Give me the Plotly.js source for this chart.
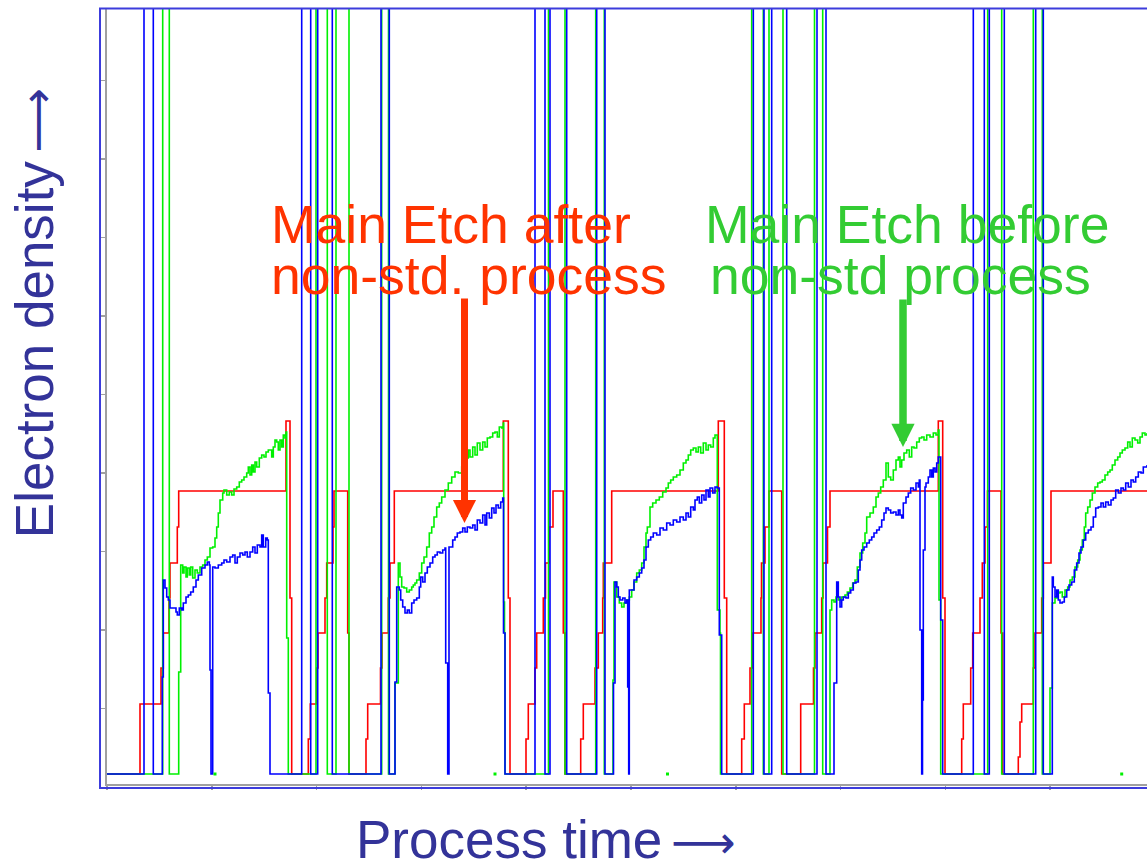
<!DOCTYPE html>
<html>
<head>
<meta charset="utf-8">
<script src="https://cdn.plot.ly/plotly-3.0.1.min.js"></script>
<style>html,body{margin:0;padding:0;background:#fff;}#chart{width:1147px;height:861px;}</style>
</head>
<body>
<div id="chart"></div>
<script>
// Sampled signals (time in samples, density in counts; 900 = off-scale / saturated)
const redX = [0,33,54,56.3,62,63,70.3,71.7,179,183,184.7,201.3,203.3,209.7,211,218,219.7,226,227,240.7,242,259,260.7,273.5,275,281.3,283,287.3,396.3,401.3,403,419,421.3,428,429.7,436.3,438.5,442,446,456.3,458,473.7,476.3,488,491.3,495.7,496.3,504.7,611.3,617.3,619.7,634.7,637.3,643,645.5,654,654.5,658,662,674.7,693.7,706.5,708,714.7,716,720.5,723,831.3,835.7,838,854.7,856.3,863.7,865.7,873,875.3,878,880.5,894,895.7,911.3,913,914.7,926.3,928,934.7,936.3,944,1040];
const redY = [10,80,116,151,186,221,257,293,363,186,10,45,80,116,151,186,221,257,293,151,10,45,80,116,151,186,221,293,363,186,10,45,80,116,151,186,221,257,293,151,10,45,80,116,151,186,221,293,363,186,10,45,80,116,151,186,221,257,293,10,80,116,151,186,221,257,293,363,186,10,45,80,116,151,186,221,257,293,151,10,27,62,80,116,151,186,221,293,293];

const greenX = [0,55.7,62.3,71.7,73.7,75.7,77,79,80.3,82.3,83.7,85.7,88,90.3,93,95.7,98,100.3,103,105.7,108,109.7,111.3,113,115.7,117,119.7,122.3,124.7,127,129.7,132.3,134.7,137,139.7,141.3,143,144.7,146.3,148,149.7,152.3,154.7,157,159,161.3,164.7,166.3,168,169.7,171.3,173,174.7,176.3,178,179,179.7,181.3,
209,220.3,229,242,274.7,281.5,288,291.3,293,294.7,297,299.7,302.3,304.7,306.3,308,309.7,312.3,314.7,317,319.7,322.3,324.7,327,329.7,332.3,334.7,338,341.3,344.7,348,351.3,354.7,358,361.3,363,365.7,368,370.3,373,375.7,378,380.3,383,385.7,388,390.3,392.3,394.7,396.3,396.7,397.5,398,
441.5,458,488.7,497.3,506,507,509.7,512.3,514.7,517,519.7,522.3,524.7,527,529.7,532.3,534.7,537,539,540.3,543,545.7,549,552.3,555.7,559,561.3,563.7,566.3,569.7,573,576.3,579,581.3,583.7,586.3,589,591.3,593.7,596.3,599,601.3,603.7,606.3,608,610.3,613,613.5,
644.7,656.3,662,676,707.5,715.7,723,724.7,727,729,731.3,734.7,738,740.3,743,745.7,748,750.3,753,755.7,758,759.7,763,766.3,769,771.3,773.7,776.3,779,781.3,783.7,786.3,789,791.3,793,794.7,797,799.7,802.3,804.7,807,809.7,812.3,814.7,817,819.7,823,826.3,829,831.3,832,833.7,
880.7,894.7,926.3,935.3,943,945.3,948,950.7,953,955.3,958,960.7,963,965.3,968,970.7,973,975.3,977.3,978.7,980.7,983,985.3,988,990.7,993,995.3,998,1000.7,1003,1005.3,1008,1010.7,1013,1015.3,1018,1020.7,1023,1025.3,1028,1030.7,1033,1035.3,1038,1040];
const greenY = [10,900,10,112,219,211,217,207,216,209,217,206,214,211,217,219,224,227,236,237,246,257,271,284,291,294,289,292,289,295,297,302,304,307,311,317,309,319,312,322,317,326,329,327,332,334,327,337,344,342,334,344,337,349,346,352,146,10,
900,10,900,10,900,10,101,221,207,197,196,192,194,197,199,201,204,211,221,227,237,251,257,267,277,281,287,294,301,307,312,311,317,326,334,327,337,329,341,334,342,337,346,347,351,352,347,357,356,361,182,151,10,
900,10,900,10,104,202,187,181,177,181,184,187,194,202,211,214,221,237,251,257,277,281,284,287,292,296,301,304,307,309,314,321,324,329,334,336,332,337,331,341,334,339,337,346,349,174,151,10,
900,10,900,10,900,10,174,184,182,187,184,187,189,192,196,201,204,217,231,241,251,267,271,277,287,291,297,304,321,307,304,314,324,327,317,324,331,334,327,337,336,342,346,347,344,349,347,351,349,354,184,10,
900,10,900,10,96,181,186,191,192,187,194,197,204,207,217,224,234,244,257,271,277,284,291,297,301,302,304,309,312,314,319,324,327,331,334,336,342,337,346,344,341,347,351,349,351];

const blueX = [0,37,46.3,55.3,56.3,58,59.7,61.3,63,69,70.3,72.3,74.7,76.3,79,81.3,83.7,86.3,89,91.3,94.7,98,100.3,102.3,103,104,105.7,108,111.3,114.7,117,119.7,123,125.7,128,130.3,133,135.7,138,140.3,143,145.7,148,150.3,153,154.7,156.3,158.7,160.3,161.3,163,
194.7,203.7,210.7,225.3,274,282.3,288,289.7,292.3,293.7,295.7,298,300.3,302.3,304.7,307,309.7,312.3,313.7,315.7,318,320.3,323,325.7,328,330.3,333,335.7,338,338.7,340.7,342,345.7,348,350.3,353,355.7,358,360.3,363,365.7,368,370.3,373,375.7,378,379.7,382.3,384.7,387,389,391.3,393.7,395.7,396.5,398,
428,438,443,459.7,489.7,498,506.5,508,509.7,511.3,513,515.7,518,519.7,520.7,521.7,522.3,527,529.7,532.3,534.7,537,539,541.3,543.7,546.3,549.7,553,556.3,559.7,563,566.3,569.7,573,576.3,579,581.3,583.7,586.3,588,590.3,592.3,594.7,597,599,601.3,603,605.7,608,610.3,612.3,614.7,
646.3,657,664.7,679.7,710,719,727,729.7,731.3,733,734.7,736.3,739,741.3,743.7,746.3,749,751.3,753,754.7,757,759.7,762.3,764.7,767,769.7,772.3,774.7,777,779,781.3,783.7,786.3,789,791.3,793,794.7,796.3,799,801.3,803.7,806.3,809,811.3,812.3,813,814.7,815.5,816.3,818,819,821.3,823,824.7,826.3,828,829.7,831.3,833.7,835.7,
866.3,877.3,882.3,897.3,928.7,936.3,945.3,946.3,948,949.7,951.3,953,955.3,957.3,959.7,962,964.7,967.3,969.7,972,974,976.3,978.7,981.3,984,986.3,988.7,991.3,994,996.3,998.7,1001.3,1004,1006.3,1008.7,1011.3,1014,1016.3,1018.7,1021.3,1024,1026.3,1028.7,1031.3,1034,1036.3,1040];
const blueY = [10,900,10,107,204,196,187,184,176,172,169,176,174,181,187,189,192,197,204,209,216,219,222,219,114,10,217,216,219,221,224,222,227,229,221,227,231,229,232,227,232,237,231,239,237,249,237,246,244,91,10,
900,10,900,10,900,10,102,197,194,184,177,171,174,171,181,184,186,197,207,202,211,217,221,227,229,232,231,234,236,121,10,237,244,247,251,252,256,252,257,256,259,254,264,261,269,259,271,266,276,271,279,276,282,286,151,10,
900,10,900,10,900,10,101,202,197,187,184,186,181,184,97,10,194,204,207,211,216,224,237,244,247,251,249,256,254,261,259,264,262,267,264,271,267,277,274,284,287,281,289,284,294,287,296,291,297,296,149,10,
900,10,900,10,900,10,101,202,187,177,184,187,186,191,194,201,202,214,224,234,237,241,244,247,251,254,257,264,271,276,274,271,272,269,274,269,266,281,287,291,296,294,301,297,304,154,10,84,234,297,301,307,314,307,316,312,321,327,164,10,
900,10,900,10,900,10,207,197,187,194,184,181,182,187,194,199,202,214,221,231,237,244,251,254,257,267,276,277,281,277,282,279,284,286,294,291,296,294,301,297,304,302,307,312,311,317,319];

// isolated single-sample green readings at the floor
const greenDotX = [108, 388, 560.5, 1014.7];
const greenDotY = [10, 10, 10, 10];

const lineW = 1.6;
const traces = [
  {x: redX, y: redY, mode: 'lines', line: {color: '#ff0000', width: lineW, shape: 'hv'}, hoverinfo: 'skip'},
  {x: greenX, y: greenY, mode: 'lines', line: {color: '#00f000', width: lineW, shape: 'hv'}, hoverinfo: 'skip'},
  {x: blueX, y: blueY, mode: 'lines', line: {color: '#0000ff', width: lineW, shape: 'hv'}, hoverinfo: 'skip'},
  {x: greenDotX, y: greenDotY, mode: 'markers', marker: {color: '#00f000', size: 3, symbol: 'square'}, hoverinfo: 'skip'}
];

const FONT = 'Liberation Sans, Arial, sans-serif';
const RED_TXT = '#ff3300', GREEN_TXT = '#33cc33', AX_TXT = '#333399';
const gray = '#a0a0a0';
const ARROW = "<span style='font-family:DejaVu Sans;font-size:45px'>\u2009\u27F6</span>";

const layout = {
  width: 1147, height: 861,
  margin: {l: 107, r: 0, t: 9, b: 77, pad: 0},
  paper_bgcolor: '#ffffff', plot_bgcolor: '#ffffff',
  showlegend: false, hovermode: false,
  xaxis: {range: [0, 1040], showgrid: false, zeroline: false, showline: true, linecolor: gray, linewidth: 2,
          ticks: 'outside', ticklen: 4, tickwidth: 1.5, tickcolor: gray, tick0: 0, dtick: 104.8, showticklabels: false, fixedrange: true},
  yaxis: {range: [0, 775], showgrid: false, zeroline: false, showline: true, linecolor: gray, linewidth: 2,
          ticks: 'outside', ticklen: 6, tickwidth: 1.5, tickcolor: gray, tick0: 75.7, dtick: 78.5, showticklabels: false, fixedrange: true},
  shapes: [
    {type: 'rect', xref: 'paper', yref: 'paper', x0: -0.00673, x1: 1.05, y0: -0.00516, y1: 1.00065,
     line: {color: '#3c3cdc', width: 2}, fillcolor: 'rgba(0,0,0,0)', layer: 'above'}
  ],
  annotations: [
    {xref: 'x', yref: 'y', x: 162, y: 559.4, xanchor: 'left', yanchor: 'middle', showarrow: false,
     text: 'Main Etch after', font: {family: FONT, size: 53.5, color: RED_TXT}},
    {xref: 'x', yref: 'y', x: 162, y: 508.4, xanchor: 'left', yanchor: 'middle', showarrow: false,
     text: 'non-std. process', font: {family: FONT, size: 53.5, color: RED_TXT}},
    {xref: 'x', yref: 'y', x: 596, y: 559.4, xanchor: 'left', yanchor: 'middle', showarrow: false,
     text: 'Main Etch before', font: {family: FONT, size: 53.5, color: GREEN_TXT}},
    {xref: 'x', yref: 'y', x: 600.5, y: 508.4, xanchor: 'left', yanchor: 'middle', showarrow: false,
     text: 'non-std process', font: {family: FONT, size: 53.5, color: GREEN_TXT}},
    {xref: 'x', yref: 'y', x: 357.5, y: 261, axref: 'x', ayref: 'y', ax: 357.5, ay: 487, text: '',
     showarrow: true, arrowhead: 2, arrowwidth: 7, arrowsize: 0.66, arrowcolor: RED_TXT, standoff: 0, startstandoff: 0},
    {xref: 'x', yref: 'y', x: 796, y: 337, axref: 'x', ayref: 'y', ax: 796, ay: 486, text: '',
     showarrow: true, arrowhead: 2, arrowwidth: 7.5, arrowsize: 0.62, arrowcolor: GREEN_TXT, standoff: 0, startstandoff: 0},
    {xref: 'paper', yref: 'paper', x: 0.2375, y: -0.071, xanchor: 'left', yanchor: 'middle', showarrow: false,
     text: 'Process time' + ARROW, font: {family: FONT, size: 53, color: AX_TXT}},
    {xref: 'paper', yref: 'paper', x: -0.0695, y: 0.6084, xanchor: 'center', yanchor: 'middle', showarrow: false,
     textangle: -90, text: 'Electron density' + ARROW, font: {family: FONT, size: 53, color: AX_TXT}}
  ]
};

Plotly.newPlot('chart', traces, layout, {staticPlot: true, displayModeBar: false});
</script>
</body>
</html>
